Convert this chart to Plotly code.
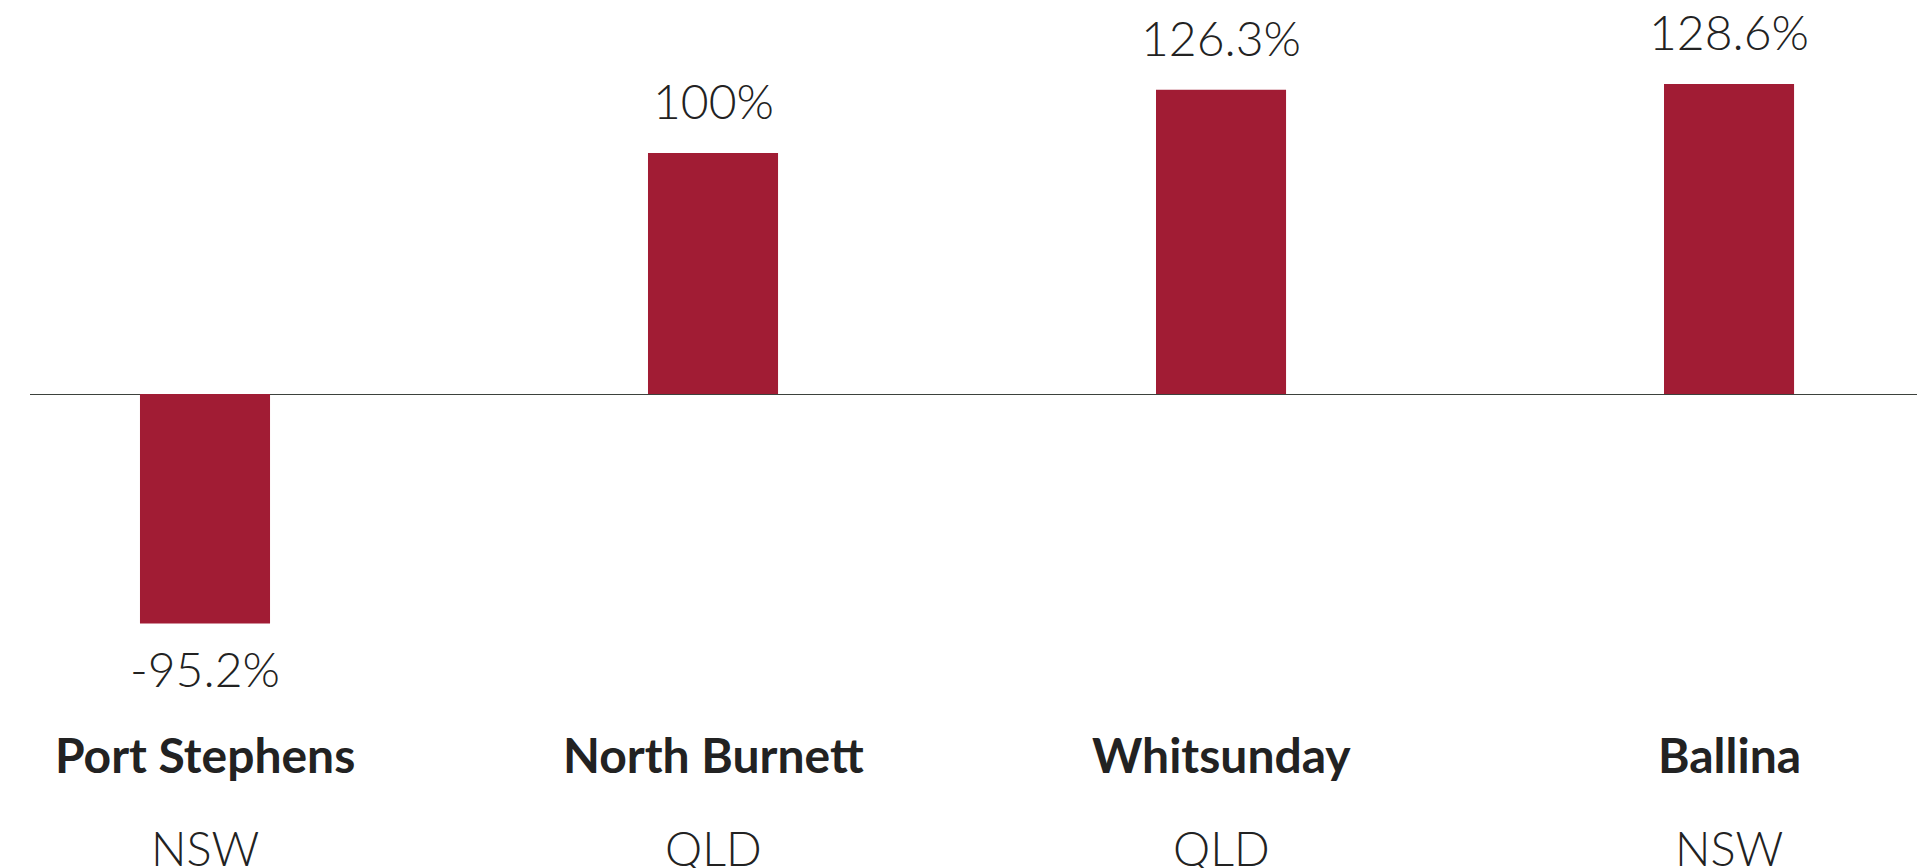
import plotly.graph_objects as go

regions = ["Port Stephens", "North Burnett", "Whitsunday", "Ballina"]
states = ["NSW", "QLD", "QLD", "NSW"]
values = [-95.2, 100, 126.3, 128.6]
value_labels = ["-95.2%", "100%", "126.3%", "128.6%"]

BAR = "#A11C34"
TXT = "#222222"
FONT = "Lato"

xs = list(range(len(regions)))

fig = go.Figure()
fig.add_trace(go.Bar(x=xs, y=values, width=0.256, marker=dict(color=BAR, line=dict(width=0)),
                     hoverinfo="skip"))

annotations = []
for x, v, lab in zip(xs, values, value_labels):
    if v >= 0:
        annotations.append(dict(x=x, y=v, xref="x", yref="y", text=lab, showarrow=False,
                                yanchor="bottom", yshift=22,
                                font=dict(family=FONT, size=48, color=TXT, weight=300)))
    else:
        annotations.append(dict(x=x, y=v, xref="x", yref="y", text=lab, showarrow=False,
                                yanchor="top", yshift=-15,
                                font=dict(family=FONT, size=48, color=TXT, weight=300)))
for x, r, s in zip(xs, regions, states):
    annotations.append(dict(x=x, y=1 - 754 / 868, xref="x", yref="paper", text=r, showarrow=False,
                            yanchor="middle",
                            font=dict(family=FONT, size=48, color=TXT, weight=700)))
    annotations.append(dict(x=x, y=1 - 848 / 868, xref="x", yref="paper", text=s, showarrow=False,
                            yanchor="middle",
                            font=dict(family=FONT, size=47, color=TXT, weight=300)))

fig.update_layout(
    width=1917, height=868,
    margin=dict(l=30, r=0, t=0, b=0),
    paper_bgcolor="white", plot_bgcolor="white",
    showlegend=False,
    annotations=annotations,
    xaxis=dict(range=[-0.3445, 3.370], visible=False, fixedrange=True),
    yaxis=dict(range=[-196.7, 163.5], showgrid=False, showticklabels=False, ticks="",
               zeroline=True, zerolinecolor="#3d423d", zerolinewidth=1, fixedrange=True),
)

fig.write_html("out.html", config={"displayModeBar": False})
